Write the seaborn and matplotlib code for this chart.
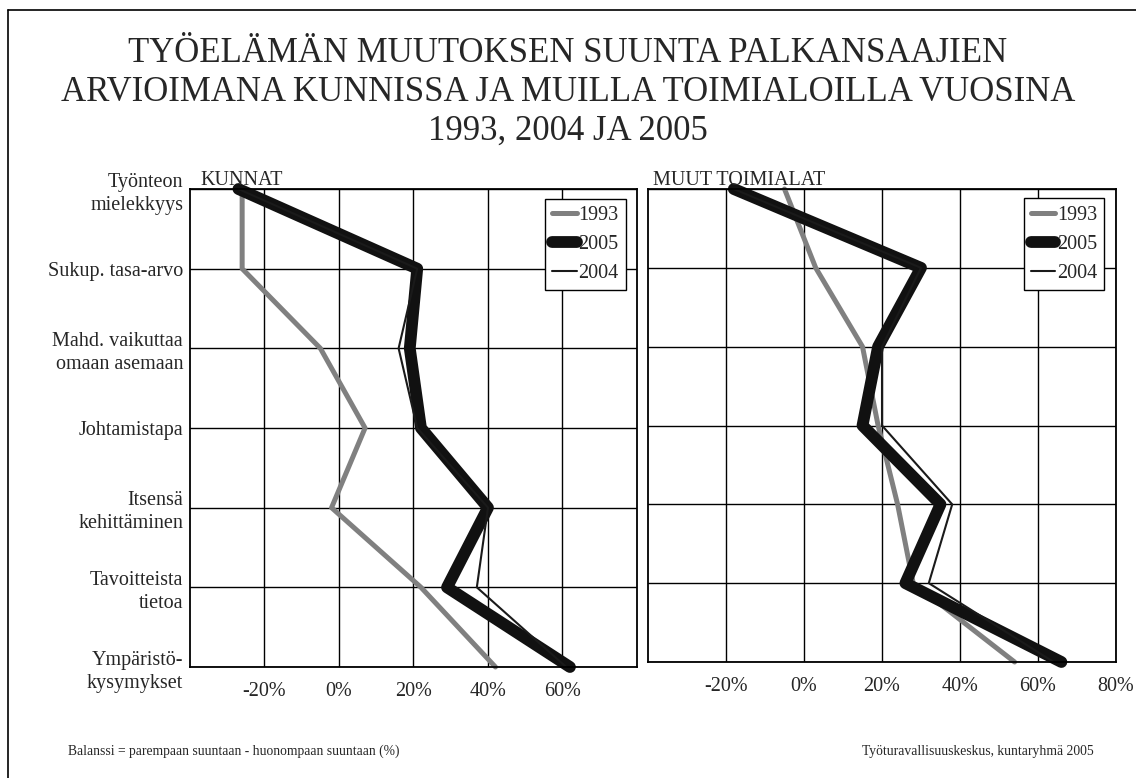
import pandas as pd
import numpy as np
import seaborn as sns
import matplotlib.pyplot as plt
from matplotlib.lines import Line2D

sns.set_style('white')
plt.rcParams['font.family'] = ['Liberation Serif', 'DejaVu Serif']

categories = ['Työnteon\nmielekkyys', 'Sukup. tasa-arvo', 'Mahd. vaikuttaa\nomaan asemaan',
              'Johtamistapa', 'Itsensä\nkehittäminen', 'Tavoitteista\ntietoa',
              'Ympäristö-\nkysymykset']
years = ['1993', '2005', '2004']

# balanssi %, kunnat
kunnat_1993 = [-26, -26, -5, 7, -2, 22, 42]
kunnat_2005 = [-27, 21, 19, 22, 40, 29, 62]
kunnat_2004 = [-27, 21, 16, 21, 40, 37, 61]
# balanssi %, muut toimialat
muut_1993 = [-5, 3, 15, 19, 24, 28, 54]
muut_2005 = [-18, 30, 19, 15, 35, 26, 66]
muut_2004 = [-18, 30, 20, 20, 38, 32, 64]

left_ticks = [-20, 0, 20, 40, 60]
right_ticks = [-20, 0, 20, 40, 60, 80]

colors = {'1993': '#808080', '2005': '#111111', '2004': '#1a1a1a'}
widths = {'1993': 3.6, '2005': 8.5, '2004': 1.5}

def makeFrame(v93, v05, v04):
    rows = []
    for yr, vals in zip(years, [v93, v05, v04]):
        for i, v in enumerate(vals):
            rows.append({'Vuosi': yr, 'pos': i, 'arvo': v})
    return pd.DataFrame(rows)

kdf = makeFrame(kunnat_1993, kunnat_2005, kunnat_2004)
mdf = makeFrame(muut_1993, muut_2005, muut_2004)

W, H = 1136, 778
fig = plt.figure(figsize=(W / 100, H / 100), dpi=100)

def pxAxes(x0, y0, x1, y1):
    return fig.add_axes([x0 / W, 1 - y1 / H, (x1 - x0) / W, (y1 - y0) / H])

axL = pxAxes(190, 189, 637, 667)
axR = pxAxes(648, 189, 1116, 662)

def drawPanel(ax, df, ticks, showLabels):
    for yr in years:
        sub = df[df['Vuosi'] == yr]
        sns.lineplot(data=sub, x='arvo', y='pos', orient='y', estimator=None,
                     color=colors[yr], linewidth=widths[yr], label=yr, ax=ax,
                     solid_capstyle='round', solid_joinstyle='round', clip_on=False)
    ax.set_xlim(-40, 80)
    ax.set_ylim(6, 0)
    ax.set_xticks(ticks)
    ax.set_xticklabels([f'{t}%' for t in ticks], fontsize=14.5)
    ax.set_yticks(range(len(categories)))
    if showLabels:
        ax.set_yticklabels(categories, fontsize=14.5, linespacing=1.3)
    else:
        ax.set_yticklabels([])
    ax.tick_params(axis='both', length=0)
    ax.tick_params(axis='x', pad=11)
    ax.tick_params(axis='y', pad=5)
    ax.set_xlabel('')
    ax.set_ylabel('')
    ax.set_axisbelow(True)
    ax.grid(True, color='black', linewidth=1)
    for s in ax.spines.values():
        s.set_color('black')
        s.set_linewidth(1.3)
    leg = ax.legend(loc='upper right', bbox_to_anchor=(0.975, 0.98), borderaxespad=0,
                    fontsize=14.5, fancybox=False, edgecolor='black', framealpha=1,
                    handlelength=1.2, handletextpad=0.1, labelspacing=0.5,
                    borderpad=0.35)
    leg.get_frame().set_linewidth(1.0)

drawPanel(axL, kdf, left_ticks, True)
drawPanel(axR, mdf, right_ticks, False)

fig.text(200 / W, 1 - 185 / H, 'KUNNAT', fontsize=14.5, va='baseline')
fig.text(653 / W, 1 - 185 / H, 'MUUT TOIMIALAT', fontsize=14.5, va='baseline')

title_lines = ['TYÖELÄMÄN MUUTOKSEN SUUNTA PALKANSAAJIEN',
               'ARVIOIMANA KUNNISSA JA MUILLA TOIMIALOILLA VUOSINA',
               '1993, 2004 JA 2005']
for line, base in zip(title_lines, [62, 101, 140]):
    fig.text(0.5, 1 - base / H, line, ha='center', va='baseline', fontsize=25)

fig.text(68 / W, 1 - 751 / H, 'Balanssi = parempaan suuntaan - huonompaan suuntaan (%)',
         fontsize=9.8, va='center')
fig.text(862 / W, 1 - 751 / H, 'Työturavallisuuskeskus, kuntaryhmä 2005',
         fontsize=9.8, va='center')

# kehys
fig.add_artist(Line2D([8 / W, 8 / W], [0, 1 - 10 / H], transform=fig.transFigure,
                      color='black', linewidth=1.2))
fig.add_artist(Line2D([8 / W, 1], [1 - 10 / H, 1 - 10 / H], transform=fig.transFigure,
                      color='black', linewidth=1.2))

fig.savefig('out.png', dpi=100)
